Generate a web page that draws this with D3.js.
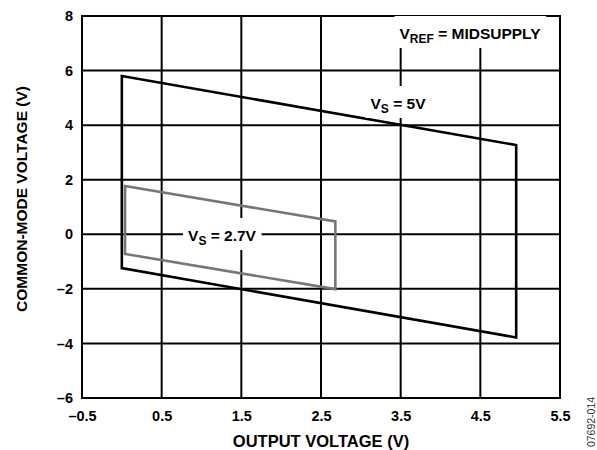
<!DOCTYPE html>
<html><head><meta charset="utf-8">
<script src="https://cdn.jsdelivr.net/npm/d3@7"></script>
<style>body{margin:0;background:#fff}svg text{font-family:"Liberation Sans",Arial,sans-serif;font-weight:bold}</style>
</head><body>
<svg id="c" width="597" height="450"></svg>
<script>
const xTicks = [-0.5, 0.5, 1.5, 2.5, 3.5, 4.5, 5.5];
const yTicks = [-6, -4, -2, 0, 2, 4, 6, 8];
const series5V = [[0, 5.8], [4.95, 3.27], [4.95, -3.78], [0, -1.24]];
const series27V = [[0.04, 1.77], [2.68, 0.47], [2.68, -2.01], [0.04, -0.72]];

const svg = d3.select("#c");
const m = {l: 82, t: 16, r: 560, b: 398};
const x = d3.scaleLinear().domain([-0.5, 5.5]).range([m.l, m.r]);
const y = d3.scaleLinear().domain([-6, 8]).range([m.b, m.t]);
const fmt = d => d < 0 ? "\u2013" + Math.abs(d) : d;

// grid
const g = svg.append("g");
g.selectAll("line.v").data(xTicks).join("line")
  .attr("x1", d => x(d)).attr("x2", d => x(d)).attr("y1", m.t).attr("y2", m.b)
  .attr("stroke", "#000").attr("stroke-width", 2);
g.selectAll("line.h").data(yTicks).join("line")
  .attr("y1", d => y(d)).attr("y2", d => y(d)).attr("x1", m.l - 1).attr("x2", m.r + 1)
  .attr("stroke", "#000").attr("stroke-width", 2);

// tick labels
const xa = d3.axisBottom(x).tickValues(xTicks).tickSize(0).tickPadding(13).tickFormat(fmt);
svg.append("g").attr("transform", `translate(0,${m.b})`).call(xa)
  .call(s => s.select(".domain").remove())
  .selectAll("text").attr("font-size", 14.5).attr("fill", "#000").style("font-family", "Liberation Sans, Arial, sans-serif").style("font-weight", "bold");
const ya = d3.axisLeft(y).tickValues(yTicks).tickSize(0).tickPadding(9).tickFormat(fmt);
svg.append("g").attr("transform", `translate(${m.l},0)`).call(ya)
  .call(s => s.select(".domain").remove())
  .selectAll("text").attr("font-size", 14.5).attr("fill", "#000").style("font-family", "Liberation Sans, Arial, sans-serif").style("font-weight", "bold");

const line = d3.line().x(d => x(d[0])).y(d => y(d[1]));
svg.append("path").attr("d", line(series5V) + "Z")
  .attr("fill", "none").attr("stroke", "#000").attr("stroke-width", 2.6).attr("stroke-linejoin", "miter");
svg.append("path").attr("d", line(series27V) + "Z")
  .attr("fill", "none").attr("stroke", "#767676").attr("stroke-width", 2.6).attr("stroke-linejoin", "miter");

function label(cx, base, main, sub, rest) {
  const t = svg.append("text").attr("x", cx).attr("y", base).attr("text-anchor", "middle").attr("font-size", 15.5).attr("fill", "#000");
  t.append("tspan").text(main);
  t.append("tspan").attr("font-size", 12).attr("dy", 4).text(sub);
  t.append("tspan").attr("dy", -4).text(rest);
  const bb = t.node().getBBox();
  svg.insert("rect", () => t.node()).attr("x", bb.x - 5).attr("y", base - 23).attr("width", bb.width + 10).attr("height", 32).attr("fill", "#fff");
}
label(470, 39, "V", "REF", " = MIDSUPPLY");
label(398, 109, "V", "S", " = 5V");
label(222, 241, "V", "S", " = 2.7V");

svg.append("text").attr("x", (m.l + m.r) / 2).attr("y", 447).attr("text-anchor", "middle").attr("font-size", 16.5).attr("fill", "#000").text("OUTPUT VOLTAGE (V)");
svg.append("text").attr("transform", "translate(26.5,199) rotate(-90)").attr("text-anchor", "middle").attr("font-size", 15.5).attr("fill", "#000").text("COMMON-MODE VOLTAGE (V)");
svg.append("text").attr("transform", "translate(595,422) rotate(-90)").attr("text-anchor", "middle").attr("font-size", 10.5).attr("fill", "#333").style("font-weight", "normal").text("07692-014");
</script>
</body></html>
